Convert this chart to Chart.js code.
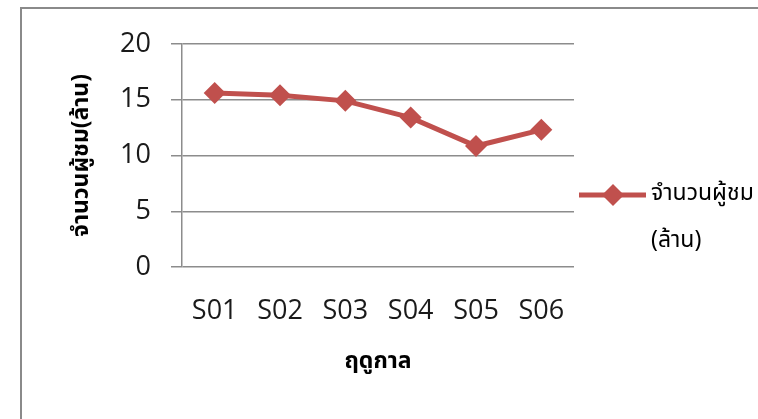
<!DOCTYPE html>
<html>
<head>
<meta charset="utf-8">
<script src="https://cdn.jsdelivr.net/npm/chart.js@4/dist/chart.umd.min.js"></script>
<style>
html,body{margin:0;padding:0;background:#fff;}
canvas{display:block;}
</style>
</head>
<body>
<canvas id="c" width="758" height="419"></canvas>
<script>
const seasons = ['S01', 'S02', 'S03', 'S04', 'S05', 'S06'];
const viewers = [15.6, 15.4, 14.9, 13.4, 10.85, 12.3];
const seriesLabel = 'จำนวนผู้ชม (ล้าน)';
const yAxisTitle = 'จำนวนผู้ชม(ล้าน)';
const xAxisTitle = 'ฤดูกาล';
const yMin = 0, yMax = 20, yStep = 5;

const RED = '#C0504D';
const GRID = '#8c8c8c';
const THAI = 'Tahoma, "Noto Sans Thai", Loma, Garuda, "DejaVu Sans", sans-serif';
const NUM = '"Open Sans", "Liberation Sans", sans-serif';

const framePlugin = {
  id: 'frame',
  beforeDraw(chart) {
    const ctx = chart.ctx;
    ctx.save();
    ctx.fillStyle = '#fff';
    ctx.fillRect(0, 0, chart.width, chart.height);
    ctx.strokeStyle = '#8a8a8a';
    ctx.lineWidth = 2;
    ctx.strokeRect(21, 8, 900, 600);
    ctx.restore();
  }
};

const legendPlugin = {
  id: 'sideLegend',
  afterDraw(chart) {
    const ds = chart.data.datasets[0];
    const ctx = chart.ctx;
    const y = 195;
    ctx.save();
    ctx.strokeStyle = ds.borderColor;
    ctx.lineWidth = ds.borderWidth;
    ctx.beginPath();
    ctx.moveTo(579, y);
    ctx.lineTo(646, y);
    ctx.stroke();
    ctx.fillStyle = ds.pointBackgroundColor;
    const r = ds.pointRadius;
    ctx.beginPath();
    ctx.moveTo(613, y - r);
    ctx.lineTo(613 + r, y);
    ctx.lineTo(613, y + r);
    ctx.lineTo(613 - r, y);
    ctx.closePath();
    ctx.fill();
    ctx.fillStyle = '#000';
    ctx.font = '23px ' + THAI;
    ctx.textBaseline = 'middle';
    const parts = ds.label.split(' ');
    parts.forEach((p, i) => ctx.fillText(p, 651, y + i * 47));
    ctx.restore();
  }
};

new Chart(document.getElementById('c'), {
  type: 'line',
  data: {
    labels: seasons,
    datasets: [{
      label: seriesLabel,
      data: viewers,
      borderColor: RED,
      backgroundColor: RED,
      pointBackgroundColor: RED,
      pointBorderColor: RED,
      borderWidth: 5,
      pointStyle: 'rectRot',
      pointRadius: 11,
      pointBorderWidth: 0,
      tension: 0
    }]
  },
  options: {
    responsive: false,
    animation: false,
    devicePixelRatio: 1,
    layout: { padding: { top: 44, right: 184, left: 0, bottom: 0 } },
    plugins: { legend: { display: false }, tooltip: { enabled: false } },
    scales: {
      x: {
        offset: true,
        grid: { display: false, drawTicks: false },
        border: { display: false },
        ticks: { font: { family: NUM, size: 27 }, color: '#1a1a1a', padding: 28 },
        title: { display: true, text: xAxisTitle, font: { family: THAI, size: 23, weight: 'bold' }, color: '#000', padding: { top: 0, bottom: 42 } },
        afterFit(s) { s.height = 152; }
      },
      y: {
        min: yMin, max: yMax,
        grid: { color: GRID, lineWidth: 1.5, tickLength: 11, drawTicks: true },
        border: { display: true, color: GRID, width: 1.5 },
        ticks: { stepSize: yStep, font: { family: NUM, size: 27 }, color: '#1a1a1a', padding: 20 },
        title: { display: true, text: yAxisTitle, font: { family: THAI, size: 23, weight: 'bold' }, color: '#000', padding: { top: 70, bottom: 0 } },
        afterFit(s) { s.width = 182; }
      }
    }
  },
  plugins: [framePlugin, legendPlugin]
});
</script>
</body>
</html>
